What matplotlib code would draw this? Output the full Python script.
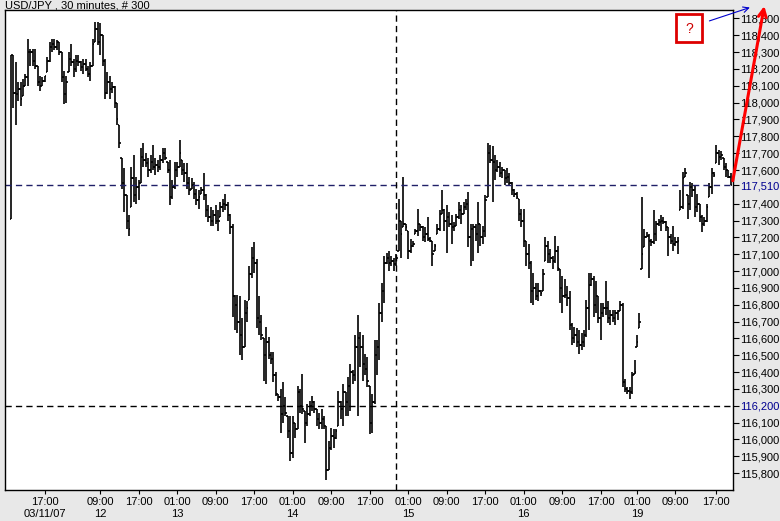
import numpy as np
import matplotlib
matplotlib.use('Agg')
import matplotlib.pyplot as plt
from matplotlib.patches import Rectangle

plt.rcParams['font.family'] = ['Liberation Sans', 'DejaVu Sans']

# USD/JPY 30 minute bars (300)
first_open = 117.31
high = [
    118.28, 118.28, 118.24, 118.12, 118.12, 118.14, 118.17, 118.38, 118.32, 118.32,
    118.32, 118.22, 118.16, 118.15, 118.16, 118.27, 118.36, 118.38, 118.38, 118.37,
    118.36, 118.30, 118.19, 118.16, 118.30, 118.35, 118.26, 118.28, 118.28, 118.25,
    118.26, 118.26, 118.22, 118.24, 118.38, 118.48, 118.48, 118.47, 118.40, 118.26,
    118.18, 118.16, 118.12, 118.10, 118.00, 117.87, 117.67, 117.61, 117.45, 117.33,
    117.62, 117.69, 117.56, 117.54, 117.73, 117.76, 117.70, 117.67, 117.69, 117.75,
    117.67, 117.66, 117.69, 117.73, 117.73, 117.65, 117.66, 117.54, 117.65, 117.65,
    117.78, 117.66, 117.64, 117.64, 117.56, 117.55, 117.53, 117.49, 117.48, 117.50,
    117.58, 117.46, 117.39, 117.38, 117.36, 117.39, 117.36, 117.41, 117.43, 117.46,
    117.41, 117.34, 117.28, 116.86, 116.86, 116.85, 116.72, 116.83, 116.82, 117.03,
    117.14, 117.17, 117.07, 116.85, 116.74, 116.60, 116.67, 116.61, 116.52, 116.52,
    116.40, 116.27, 116.30, 116.34, 116.25, 116.14, 116.14, 116.14, 116.10, 116.32,
    116.30, 116.39, 116.17, 116.21, 116.23, 116.26, 116.23, 116.18, 116.16, 116.18,
    116.14, 116.08, 115.99, 116.07, 116.06, 116.06, 116.29, 116.23, 116.33, 116.28,
    116.37, 116.45, 116.41, 116.62, 116.74, 116.64, 116.62, 116.51, 116.49, 116.32,
    116.27, 116.59, 116.59, 116.81, 116.93, 117.09, 117.11, 117.12, 117.09, 117.08,
    117.10, 117.43, 117.30, 117.56, 117.28, 117.24, 117.19, 117.18, 117.25, 117.37,
    117.28, 117.27, 117.26, 117.32, 117.20, 117.18, 117.16, 117.28, 117.36, 117.48,
    117.37, 117.39, 117.35, 117.33, 117.29, 117.34, 117.41, 117.39, 117.41, 117.43,
    117.47, 117.28, 117.28, 117.28, 117.41, 117.28, 117.27, 117.45, 117.76, 117.75,
    117.74, 117.69, 117.66, 117.65, 117.62, 117.60, 117.61, 117.58, 117.53, 117.49,
    117.47, 117.43, 117.37, 117.37, 117.18, 117.16, 117.06, 116.99, 116.93, 116.93,
    116.89, 117.01, 117.20, 117.18, 117.13, 117.09, 117.21, 117.15, 117.01, 116.97,
    116.95, 116.91, 116.88, 116.69, 116.67, 116.66, 116.65, 116.63, 116.65, 116.83,
    116.99, 116.99, 116.97, 116.94, 116.85, 116.81, 116.81, 116.94, 116.82, 116.77,
    116.77, 116.77, 116.77, 116.82, 116.81, 116.36, 116.31, 116.31, 116.40, 116.47,
    116.62, 116.75, 117.44, 117.25, 117.23, 117.22, 117.19, 117.36, 117.30, 117.31,
    117.33, 117.32, 117.30, 117.26, 117.22, 117.27, 117.20, 117.20, 117.48, 117.59,
    117.61, 117.45, 117.53, 117.52, 117.51, 117.46, 117.40, 117.33, 117.32, 117.40,
    117.52, 117.61, 117.59, 117.75, 117.72, 117.71, 117.67, 117.64, 117.60, 117.58,
]
low = [
    117.31, 117.97, 117.87, 118.01, 117.98, 118.04, 118.10, 118.10, 118.22, 118.22,
    118.20, 118.10, 118.07, 118.10, 118.12, 118.18, 118.24, 118.30, 118.31, 118.31,
    118.28, 118.12, 117.99, 118.00, 118.18, 118.22, 118.15, 118.18, 118.22, 118.19,
    118.17, 118.19, 118.15, 118.13, 118.22, 118.36, 118.34, 118.28, 118.22, 118.02,
    118.05, 118.02, 118.06, 117.97, 117.87, 117.73, 117.49, 117.35, 117.25, 117.21,
    117.38, 117.41, 117.40, 117.42, 117.52, 117.62, 117.62, 117.56, 117.58, 117.60,
    117.57, 117.59, 117.60, 117.64, 117.66, 117.58, 117.39, 117.43, 117.49, 117.56,
    117.62, 117.57, 117.53, 117.49, 117.45, 117.49, 117.43, 117.39, 117.37, 117.46,
    117.42, 117.32, 117.29, 117.27, 117.27, 117.28, 117.24, 117.32, 117.35, 117.36,
    117.30, 117.22, 116.73, 116.65, 116.63, 116.50, 116.47, 116.55, 116.70, 116.83,
    116.96, 116.99, 116.66, 116.62, 116.59, 116.35, 116.33, 116.48, 116.45, 116.34,
    116.26, 116.23, 116.04, 116.10, 116.14, 116.01, 115.87, 115.89, 116.01, 116.06,
    116.16, 116.15, 115.98, 116.08, 116.14, 116.17, 116.16, 116.08, 116.06, 116.06,
    116.06, 115.76, 115.82, 115.94, 115.95, 116.00, 116.08, 116.12, 116.08, 116.14,
    116.14, 116.17, 116.33, 116.35, 116.14, 116.43, 116.35, 116.38, 116.31, 116.03,
    116.04, 116.21, 116.38, 116.47, 116.70, 116.81, 117.04, 117.00, 117.03, 117.00,
    117.03, 117.12, 117.08, 117.26, 117.24, 117.07, 117.11, 117.14, 117.22, 117.21,
    117.24, 117.18, 117.17, 117.18, 117.17, 117.03, 117.12, 117.22, 117.24, 117.34,
    117.24, 117.11, 117.26, 117.16, 117.24, 117.27, 117.31, 117.28, 117.34, 117.36,
    117.14, 117.03, 117.06, 117.18, 117.11, 117.15, 117.16, 117.20, 117.44, 117.64,
    117.41, 117.54, 117.59, 117.56, 117.55, 117.51, 117.52, 117.51, 117.45, 117.44,
    117.43, 117.30, 117.26, 117.14, 117.03, 117.01, 116.81, 116.80, 116.83, 116.82,
    116.85, 116.88, 117.06, 117.05, 117.05, 117.01, 117.05, 117.00, 116.81, 116.75,
    116.84, 116.79, 116.65, 116.56, 116.57, 116.55, 116.51, 116.53, 116.55, 116.61,
    116.65, 116.91, 116.73, 116.75, 116.69, 116.59, 116.73, 116.74, 116.69, 116.68,
    116.70, 116.68, 116.71, 116.76, 116.31, 116.28, 116.27, 116.24, 116.27, 116.39,
    116.55, 116.66, 117.01, 117.14, 117.20, 116.96, 117.15, 117.16, 117.18, 117.27,
    117.24, 117.28, 117.24, 117.09, 117.16, 117.12, 117.15, 117.10, 117.36, 117.37,
    117.56, 117.31, 117.36, 117.44, 117.32, 117.35, 117.29, 117.23, 117.27, 117.29,
    117.44, 117.46, 117.56, 117.64, 117.63, 117.66, 117.60, 117.56, 117.55, 117.51,
]
close = [
    118.28, 118.06, 118.05, 118.08, 118.02, 118.10, 118.15, 118.30, 118.30, 118.25,
    118.22, 118.12, 118.10, 118.13, 118.16, 118.25, 118.33, 118.35, 118.33, 118.36,
    118.30, 118.15, 118.05, 118.12, 118.26, 118.24, 118.20, 118.25, 118.24, 118.21,
    118.23, 118.20, 118.17, 118.22, 118.35, 118.44, 118.36, 118.40, 118.25, 118.06,
    118.12, 118.08, 118.09, 118.00, 117.90, 117.76, 117.52, 117.45, 117.30, 117.25,
    117.55, 117.45, 117.50, 117.52, 117.68, 117.66, 117.64, 117.60, 117.65, 117.62,
    117.63, 117.62, 117.66, 117.70, 117.67, 117.60, 117.44, 117.50, 117.60, 117.62,
    117.70, 117.60, 117.58, 117.52, 117.48, 117.51, 117.46, 117.42, 117.44, 117.48,
    117.45, 117.36, 117.32, 117.30, 117.33, 117.30, 117.30, 117.38, 117.40, 117.39,
    117.33, 117.26, 116.85, 116.80, 116.70, 116.62, 116.55, 116.75, 116.78, 116.98,
    117.08, 117.05, 116.72, 116.70, 116.62, 116.50, 116.58, 116.50, 116.48, 116.38,
    116.27, 116.25, 116.15, 116.20, 116.16, 116.05, 115.92, 116.10, 116.06, 116.28,
    116.20, 116.18, 116.10, 116.15, 116.20, 116.22, 116.18, 116.12, 116.10, 116.12,
    116.08, 115.82, 115.95, 116.02, 116.01, 116.05, 116.22, 116.18, 116.28, 116.22,
    116.32, 116.40, 116.38, 116.55, 116.60, 116.55, 116.45, 116.42, 116.35, 116.10,
    116.22, 116.50, 116.55, 116.75, 116.88, 117.05, 117.08, 117.05, 117.06, 117.04,
    117.08, 117.30, 117.22, 117.28, 117.26, 117.12, 117.15, 117.16, 117.24, 117.28,
    117.26, 117.20, 117.22, 117.19, 117.18, 117.10, 117.15, 117.25, 117.34, 117.36,
    117.30, 117.32, 117.28, 117.26, 117.27, 117.32, 117.36, 117.34, 117.38, 117.40,
    117.20, 117.25, 117.26, 117.22, 117.28, 117.20, 117.24, 117.42, 117.70, 117.66,
    117.65, 117.60, 117.62, 117.58, 117.60, 117.55, 117.56, 117.52, 117.48, 117.46,
    117.44, 117.34, 117.30, 117.18, 117.10, 117.05, 116.88, 116.90, 116.85, 116.88,
    116.87, 116.98, 117.15, 117.10, 117.08, 117.06, 117.12, 117.02, 116.90, 116.85,
    116.86, 116.84, 116.68, 116.60, 116.62, 116.58, 116.56, 116.58, 116.62, 116.78,
    116.92, 116.95, 116.80, 116.85, 116.72, 116.75, 116.78, 116.78, 116.72, 116.74,
    116.72, 116.75, 116.76, 116.80, 116.34, 116.30, 116.29, 116.28, 116.38, 116.40,
    116.58, 116.70, 117.10, 117.20, 117.21, 117.18, 117.17, 117.22, 117.28, 117.29,
    117.30, 117.29, 117.26, 117.20, 117.18, 117.16, 117.17, 117.18, 117.38, 117.55,
    117.58, 117.40, 117.50, 117.48, 117.38, 117.40, 117.32, 117.28, 117.30, 117.38,
    117.50, 117.58, 117.57, 117.70, 117.68, 117.69, 117.62, 117.60, 117.56, 117.51,
]

# x axis: bar index of each time label
xtick_pos = [14, 37, 53, 69, 85, 101, 117, 133, 149, 165, 181, 197, 213, 229, 245, 260, 276, 293]
xtick_time = ['17:00', '09:00', '17:00', '01:00', '09:00', '17:00', '01:00', '09:00', '17:00',
              '01:00', '09:00', '17:00', '01:00', '09:00', '17:00', '01:00', '09:00', '17:00']
xtick_date = ['03/11/07', '12', '', '13', '', '', '14', '', '', '15', '', '', '16', '', '', '19', '', '']

# reference lines
last_price = 117.51
support = 116.20
vline_bar = 160

high = np.array(high)
low = np.array(low)
close = np.array(close)
opn = np.clip(np.concatenate([[first_open], close[:-1]]), low, high)
idx = np.arange(len(close))

fig = plt.figure(figsize=(7.8, 5.21), dpi=100, facecolor='#e8e8e8')
ax = fig.add_axes([5 / 780, 1 - 490 / 521, 728 / 780, 480 / 521])
ax.set_facecolor('white')

# OHLC bars
ax.vlines(idx, low, high, color='black', lw=1.2)
ax.hlines(opn, idx - 0.6, idx, color='black', lw=1.2)
ax.hlines(close, idx, idx + 0.6, color='black', lw=1.2)

# dashed lines
ax.axhline(last_price, color='#202068', lw=1, dashes=(4.5, 3))
ax.axhline(support, color='black', lw=1, dashes=(4.5, 3))
ax.axvline(vline_bar, color='black', lw=1, dashes=(4.5, 3))

ax.set_xlim(-2.5, 299.9)
ax.set_ylim(115.70, 118.55)

# y axis on the right
yvals = [v for v in np.round(np.arange(115.8, 118.51, 0.1), 2) if v != 117.5] + [last_price]
yvals = sorted(yvals)
ax.set_yticks(yvals)
ax.set_yticklabels([('%.3f' % v).replace('.', ',') for v in yvals])
ax.yaxis.tick_right()
ax.tick_params(axis='y', direction='out', length=4, width=0.8, pad=1, labelsize=8)
for lab in ax.get_yticklabels():
    if lab.get_text() in ('117,510', '116,200'):
        lab.set_color('#000090')

ax.set_xticks(xtick_pos)
ax.set_xticklabels([t + '\n' + d for t, d in zip(xtick_time, xtick_date)], linespacing=1.25)
ax.tick_params(axis='x', direction='out', length=3, width=0.8, pad=2, labelsize=8)

for s in ax.spines.values():
    s.set_color('black')
    s.set_linewidth(1)

fig.text(5 / 780, 0.999, 'USD/JPY , 30 minutes, # 300', fontsize=8, va='top', ha='left')

# annotations: question box, blue pointer, red arrow up
ax.add_patch(Rectangle((276.2, 118.36), 10.8, 0.165, fill=False, ec='#dd0000', lw=2))
ax.text(281.6, 118.44, '?', color='#cc0000', fontsize=10, ha='center', va='center')
ax.annotate('', xy=(308, 118.57), xytext=(289, 118.48),
            arrowprops=dict(arrowstyle='->', color='#0000cc', lw=0.8), annotation_clip=False)
ax.annotate('', xy=(313.1, 118.59), xytext=(299.6, 117.52),
            arrowprops=dict(arrowstyle='->', color='red', lw=2.2, mutation_scale=14),
            annotation_clip=False)

fig.savefig('out.png', dpi=100, facecolor=fig.get_facecolor())
